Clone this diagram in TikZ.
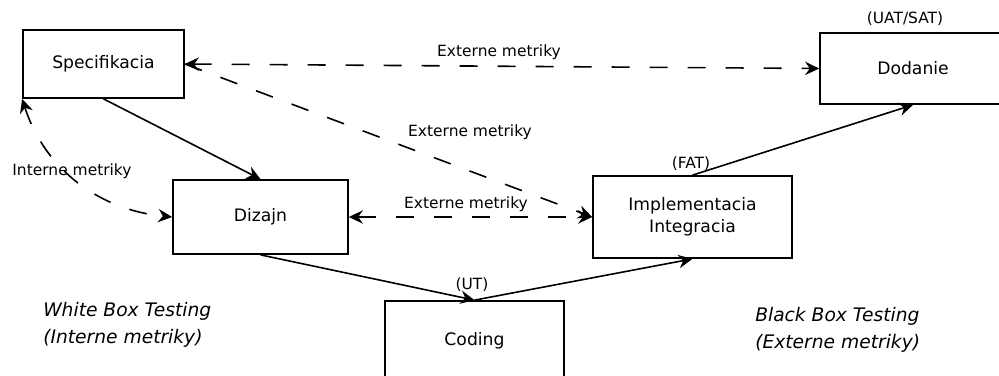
\documentclass[tikz,border=0pt]{standalone}
\usepackage{fontspec}
\setmainfont{DejaVu Sans}
\usetikzlibrary{arrows.meta}
\begin{document}
\begin{tikzpicture}[x=0.75pt,y=-0.75pt,
  box/.style={draw,line width=1.3pt,inner sep=0pt,font=\fontsize{12.9}{16.5}\selectfont,align=center},
  lbl/.style={font=\fontsize{11.6}{13}\selectfont,inner sep=0pt},
  note/.style={font=\fontsize{14}{20.25}\selectfont\itshape,anchor=base west,inner sep=0pt},
  tip/.tip={Stealth[length=10.5pt,width=10pt,inset=3.5pt]},
  flow/.style={line width=1.2pt,-tip},
  ext/.style={line width=1.2pt,dash pattern=on 13.5pt off 15pt}]
\useasboundingbox (0,0) rectangle (999,375);
\clip (0,0) rectangle (999,375);
% boxes
\node[box,minimum width=120.75pt,minimum height=51pt] (spec) at (103.5,64) {Specifikacia};
\node[box,minimum width=131.25pt,minimum height=55.5pt] (diz) at (260.5,217) {Dizajn};
\node[box,minimum width=149.25pt,minimum height=61.5pt] (impl) at (692.5,217) {Implementacia\\Integracia};
\node[box,minimum width=134.25pt,minimum height=60pt] (cod) at (474.5,341) {Coding};
\node[box,minimum width=139.5pt,minimum height=53.25pt] (dod) at (913,68.5) {Dodanie};
% labels
\node[lbl] (lUAT) at (905,19) {(UAT/SAT)};
\node[lbl] (lFAT) at (691,164) {(FAT)};
\node[lbl] (lUT) at (472,285) {(UT)};
\node[lbl] (le1) at (499,52) {Externe metriky};
\node[lbl] (le2) at (470,132) {Externe metriky};
\node[lbl] (le3) at (466,204) {Externe metriky};
\node[lbl] (li) at (72,171) {Interne metriky};
\node[note] (w1) at (43,316) {White Box Testing};
\node[note] (w2) at (43,343) {(Interne metriky)};
\node[note] (b1) at (755,321) {Black Box Testing};
\node[note] (b2) at (755,348) {(Externe metriky)};
% solid flow
\draw[flow] (spec.south) -- (diz.north);
\draw[flow] (diz.south) -- (cod.north);
\draw[flow] (cod.north) -- (impl.south);
\draw[flow] (impl.north) -- (dod.south);
% dashed metrics
\draw[ext,tip-tip] (spec.east) -- (dod.west);
\draw[ext,-tip] (spec.east) -- (impl.west);
\draw[ext,tip-tip] (diz.east) -- (impl.west);
\draw[ext,tip-tip] (spec.south west) .. controls (45,170) and (100,210) .. (diz.west);
\end{tikzpicture}
\end{document}
